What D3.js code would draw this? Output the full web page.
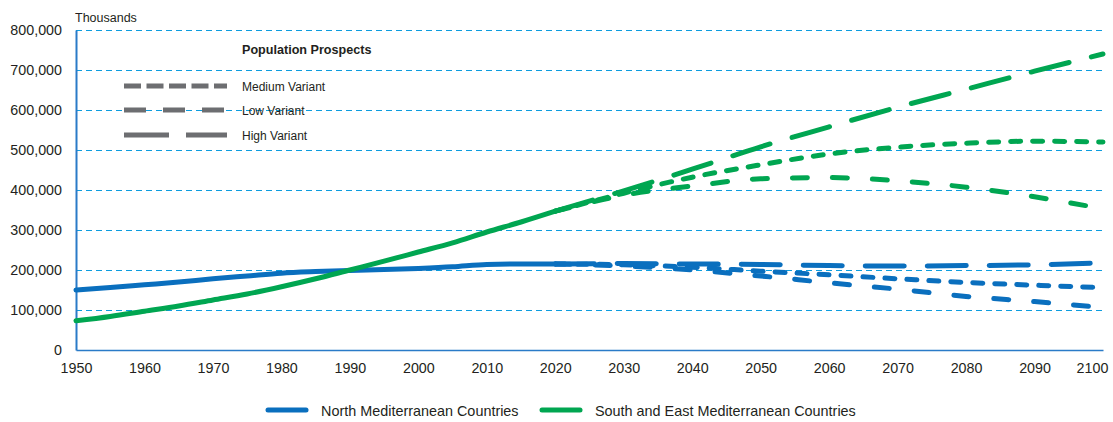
<!DOCTYPE html>
<html>
<head>
<meta charset="utf-8">
<script src="https://cdn.jsdelivr.net/npm/d3@7"></script>
<style>
  body { margin: 0; background: #fff; }
  text { font-family: "Liberation Sans", Arial, sans-serif; fill: #231f20; }
</style>
</head>
<body>
<div id="chart"></div>
<script>
// Data (thousands)
const histYears = [1950, 1955, 1960, 1965, 1970, 1975, 1980, 1985, 1990, 1995, 2000, 2005, 2010, 2015, 2020];
const northHist = [150000, 156000, 163000, 170000, 178000, 185000, 192000, 196000, 199000, 201000, 204000, 208000, 214000, 215000, 215000];
const southHist = [73000, 84000, 97000, 110000, 125000, 140000, 158000, 178000, 200000, 222000, 245000, 268000, 295000, 320000, 347000];

const projYears = [2020, 2030, 2040, 2050, 2060, 2070, 2080, 2090, 2100];
const southHigh = [347000, 398000, 452000, 508000, 558000, 607000, 652000, 697000, 740000];
const southMedium = [347000, 392000, 432000, 463000, 490000, 507000, 517000, 522000, 520000];
const southLow = [347000, 387000, 410000, 428000, 431000, 423000, 407000, 383000, 353000];
const northHigh = [215000, 216000, 215000, 214000, 211000, 210000, 211000, 213000, 218000];
const northMedium = [215000, 213000, 207000, 197000, 188000, 178000, 169000, 162000, 156000];
const northLow = [215000, 210000, 200000, 185000, 168000, 152000, 134000, 121000, 106000];

const yTicks = [0, 100000, 200000, 300000, 400000, 500000, 600000, 700000, 800000];
const xTicks = [1950, 1960, 1970, 1980, 1990, 2000, 2010, 2020, 2030, 2040, 2050, 2060, 2070, 2080, 2090, 2100];

const width = 1113;
const height = 422;
const blue = "#0a6fbe";
const green = "#00a651";
const grey = "#6d6e71";

const svg = d3.select("#chart").append("svg")
    .attr("width", width)
    .attr("height", height);

const x = d3.scaleLinear().domain([1950, 2100]).range([76, 1103]);
const y = d3.scaleLinear().domain([0, 800000]).range([350, 30]);

// Gridlines
svg.selectAll("line.grid")
    .data(yTicks.slice(1))
    .enter()
    .append("line")
    .attr("class", "grid")
    .attr("x1", x(1950))
    .attr("x2", x(2100))
    .attr("y1", d => Math.round(y(d)) + 0.5)
    .attr("y2", d => Math.round(y(d)) + 0.5)
    .attr("stroke", "#0d9ddf")
    .attr("stroke-width", 1)
    .attr("stroke-dasharray", "6,4");

// Axes
const yAxis = svg.append("g")
    .attr("transform", `translate(${x(1950)},0)`)
    .call(d3.axisLeft(y).tickValues(yTicks).tickSize(0).tickPadding(14).tickFormat(d3.format(",")));
yAxis.select(".domain").attr("stroke", "#2a7bc8").attr("stroke-width", 2);
yAxis.selectAll("text").style("font-size", "14.3px").attr("font-family", null);

const xAxis = svg.append("g")
    .attr("transform", `translate(0,${y(0)})`)
    .call(d3.axisBottom(x).tickValues(xTicks).tickSize(0).tickPadding(13).tickFormat(d3.format("d")));
xAxis.select(".domain").attr("stroke", "#2a7bc8").attr("stroke-width", 1.5);
xAxis.selectAll("text").style("font-size", "14.3px").attr("font-family", null);
// keep the last year label inside the frame
xAxis.selectAll(".tick text").filter(d => d === 2100).attr("dx", -11);

svg.append("text")
    .attr("x", 75)
    .attr("y", 21.5)
    .style("font-size", "12.5px")
    .text("Thousands");

// Lines
const line = d3.line()
    .x(d => x(d[0]))
    .y(d => y(d[1]))
    .curve(d3.curveMonotoneX);

const dashes = { medium: "10,12", low: "15,25", high: "39,23" };

const series = [
    { vals: northLow, color: blue, dash: dashes.low },
    { vals: northMedium, color: blue, dash: dashes.medium },
    { vals: northHigh, color: blue, dash: dashes.high },
    { vals: southLow, color: green, dash: dashes.low },
    { vals: southMedium, color: green, dash: dashes.medium },
    { vals: southHigh, color: green, dash: dashes.high }
];

series.forEach(s => {
    svg.append("path")
        .datum(projYears.map((yr, i) => [yr, s.vals[i]]))
        .attr("d", line)
        .attr("fill", "none")
        .attr("stroke", s.color)
        .attr("stroke-width", 5)
        .attr("stroke-linecap", "round")
        .attr("stroke-dasharray", s.dash);
});

[[northHist, blue], [southHist, green]].forEach(([vals, color]) => {
    svg.append("path")
        .datum(histYears.map((yr, i) => [yr, vals[i]]))
        .attr("d", line)
        .attr("fill", "none")
        .attr("stroke", color)
        .attr("stroke-width", 5)
        .attr("stroke-linecap", "round");
});

// Variant legend
svg.append("text")
    .attr("x", 242)
    .attr("y", 53.5)
    .style("font-size", "12.6px")
    .style("font-weight", "bold")
    .text("Population Prospects");

const variantLegend = [
    { label: "Medium Variant", dash: "17,5.5", y: 86 },
    { label: "Low Variant", dash: "22,17", y: 110 },
    { label: "High Variant", dash: "45,17", y: 135 }
];

variantLegend.forEach(v => {
    svg.append("line")
        .attr("x1", 124)
        .attr("x2", 227)
        .attr("y1", v.y)
        .attr("y2", v.y)
        .attr("stroke", grey)
        .attr("stroke-width", 5)
        .attr("stroke-dasharray", v.dash);
    svg.append("text")
        .attr("x", 242)
        .attr("y", v.y + 4.5)
        .style("font-size", "12px")
        .text(v.label);
});

// Bottom legend
const regionLegend = [
    { label: "North Mediterranean Countries", color: blue, x: 268 },
    { label: "South and East Mediterranean Countries", color: green, x: 542 }
];

regionLegend.forEach(r => {
    svg.append("line")
        .attr("x1", r.x)
        .attr("x2", r.x + 38)
        .attr("y1", 410)
        .attr("y2", 410)
        .attr("stroke", r.color)
        .attr("stroke-width", 5)
        .attr("stroke-linecap", "round");
    svg.append("text")
        .attr("x", r.x + 53)
        .attr("y", 415.5)
        .style("font-size", "14.4px")
        .text(r.label);
});
</script>
</body>
</html>
